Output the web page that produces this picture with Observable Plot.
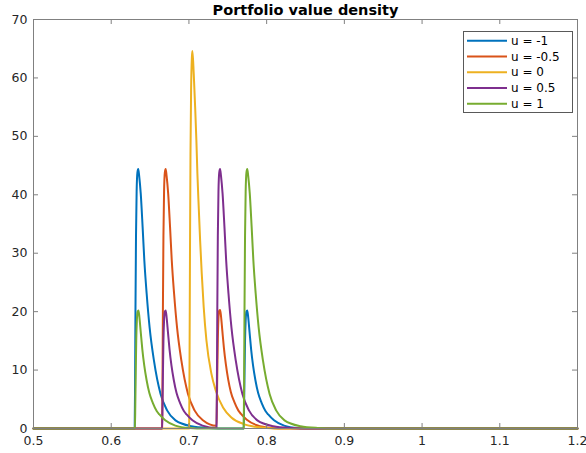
<!DOCTYPE html>
<html><head><meta charset="utf-8">
<script src="https://cdn.jsdelivr.net/npm/d3@7"></script>
<script src="https://cdn.jsdelivr.net/npm/@observablehq/plot@0.6"></script>
<style>html,body{margin:0;padding:0;background:#fff;} svg{display:block}</style>
</head><body><div id="chart"></div><script>
const chartTitle = "Portfolio value density";
const seriesNames = ["u = -1", "u = -0.5", "u = 0", "u = 0.5", "u = 1"];
const seriesColors = ["#0072BD", "#D95319", "#EDB120", "#7E2F8E", "#77AC30"];
const xTicks = [0.5, 0.6, 0.7, 0.8, 0.9, 1, 1.1, 1.2];
const xTickLabels = ["0.5", "0.6", "0.7", "0.8", "0.9", "1", "1.1", "1.2"];
const yTicks = [0, 10, 20, 30, 40, 50, 60, 70];
const yTickLabels = ["0", "10", "20", "30", "40", "50", "60", "70"];

// u = -1
const xU1m = [0.5, 0.6302, 0.6307, 0.6312, 0.6319, 0.6327, 0.6337, 0.6348, 0.636, 0.638, 0.6404, 0.6426, 0.6456, 0.6494, 0.655, 0.6635, 0.6719, 0.6827, 0.7032, 0.7252, 0.7502,
  0.7705, 0.771, 0.7715, 0.7722, 0.773, 0.774, 0.7751, 0.7763, 0.778, 0.78, 0.7825, 0.7855, 0.789, 0.7935, 0.7985, 0.802, 0.8095, 0.8225, 0.8405, 0.8605, 1.2];
const yU1m = [0, 0, 8, 20, 33, 40.5, 43.8, 44.4, 43.2, 40.2, 34.5, 28.8, 23.1, 17.3, 11.6, 5.9, 3.1, 1.4, 0.4, 0.1, 0,
  0, 4, 9, 15, 18.5, 20, 20.2, 19, 16.5, 13.6, 10.8, 8.3, 6.1, 4.4, 3.0, 2.4, 1.4, 0.5, 0.1, 0, 0];
// u = -0.5
const xU05m = [0.5, 0.6655, 0.666, 0.6665, 0.6672, 0.668, 0.669, 0.6701, 0.6713, 0.6733, 0.6757, 0.6779, 0.6809, 0.6847, 0.6903, 0.6988, 0.7072, 0.718,
  0.7355, 0.736, 0.7365, 0.7372, 0.738, 0.739, 0.7401, 0.7413, 0.743, 0.745, 0.7475, 0.7505, 0.754, 0.7585, 0.7635, 0.767, 0.7745, 0.7875, 0.8055, 0.8255, 1.2];
const yU05m = [0, 0, 8, 20, 33, 40.5, 43.8, 44.4, 43.2, 40.2, 34.5, 28.8, 23.1, 17.3, 11.6, 5.9, 3.1, 1.4,
  0.45, 4.4, 9.4, 15.3, 18.8, 20.2, 20.3, 19.2, 16.7, 13.8, 11, 8.4, 6.2, 4.5, 3.1, 2.5, 1.5, 0.55, 0.1, 0, 0];
// u = 0
const xU0 = [0.5, 0.7003, 0.7008, 0.7013, 0.702, 0.7028, 0.7038, 0.7045, 0.7062, 0.708, 0.7096, 0.7109, 0.7126, 0.7144, 0.7165, 0.719, 0.7225, 0.7289, 0.7345, 0.7439, 0.7546, 0.7697, 0.7853, 0.8003, 0.8203, 1.2];
const yU0 = [0, 0, 12, 28, 47, 58, 63.5, 64.6, 60.7, 55, 49.3, 43.6, 37.9, 32.2, 26.5, 20.8, 15.1, 9.4, 6.5, 3.6, 1.9, 0.8, 0.3, 0.1, 0, 0];
// u = 0.5
const xU05 = [0.5, 0.6655, 0.666, 0.6665, 0.6672, 0.668, 0.669, 0.6701, 0.6713, 0.673, 0.675, 0.6775, 0.6805, 0.684, 0.6885, 0.6935, 0.697, 0.7045, 0.7175, 0.7355,
  0.736, 0.7365, 0.7372, 0.738, 0.739, 0.7401, 0.7413, 0.7433, 0.7457, 0.7479, 0.7509, 0.7547, 0.7603, 0.7688, 0.7772, 0.788, 0.8085, 0.8305, 0.8555, 1.2];
const yU05 = [0, 0, 4, 9, 15, 18.5, 20, 20.2, 19, 16.5, 13.6, 10.8, 8.3, 6.1, 4.4, 3.0, 2.4, 1.4, 0.5, 0.1,
  8, 20, 33, 40.5, 43.8, 44.4, 43.2, 40.2, 34.5, 28.8, 23.1, 17.3, 11.6, 5.9, 3.1, 1.4, 0.4, 0.1, 0, 0];
// u = 1
const xU1 = [0.5, 0.6305, 0.631, 0.6315, 0.6322, 0.633, 0.634, 0.6351, 0.6363, 0.638, 0.64, 0.6425, 0.6455, 0.649, 0.6535, 0.6585, 0.662, 0.6695, 0.6825, 0.7005, 0.7205,
  0.7705, 0.771, 0.7715, 0.7722, 0.773, 0.774, 0.7751, 0.7763, 0.7783, 0.7807, 0.7829, 0.7859, 0.7897, 0.7953, 0.8038, 0.8122, 0.823, 0.8435, 0.8655, 0.8905, 1.2];
const yU1 = [0, 0, 4, 9, 15, 18.5, 20, 20.2, 19, 16.5, 13.6, 10.8, 8.3, 6.1, 4.4, 3.0, 2.4, 1.4, 0.5, 0.1, 0,
  0, 8, 20, 33, 40.5, 43.8, 44.4, 43.2, 40.2, 34.5, 28.8, 23.1, 17.3, 11.6, 5.9, 3.1, 1.4, 0.4, 0.1, 0, 0];

const xs = [xU1m, xU05m, xU0, xU05, xU1];
const ys = [yU1m, yU05m, yU0, yU05, yU1];
const rows = [];
seriesNames.forEach((name, k) => {
  xs[k].forEach((x, i) => rows.push({x, y: ys[k][i], series: name}));
});

const W = 586, H = 453, mL = 33, mR = 9, mT = 19, mB = 25;
const innerW = W - mL - mR, innerH = H - mT - mB;
const axisGray = "#808080";
const textColor = "#262626";

const svg = Plot.plot({
  width: W, height: H,
  marginLeft: mL, marginRight: mR, marginTop: mT, marginBottom: mB,
  style: {fontFamily: "DejaVu Sans", fontSize: "12.5px", color: textColor, background: "#fff", overflow: "visible"},
  x: {domain: [0.5, 1.2], label: null},
  y: {domain: [0, 70], label: null},
  color: {domain: seriesNames, range: seriesColors},
  marks: [
    Plot.line(rows, {x: "x", y: "y", z: "series", stroke: "series", strokeWidth: 2, curve: "monotone-x"}),
    Plot.frame({stroke: axisGray}),
    Plot.tickX(xTicks, {x: d => d, insetTop: innerH - 5, stroke: axisGray}),
    Plot.tickX(xTicks, {x: d => d, insetBottom: innerH - 5, stroke: axisGray}),
    Plot.tickY(yTicks, {y: d => d, insetRight: innerW - 5, stroke: axisGray}),
    Plot.tickY(yTicks, {y: d => d, insetLeft: innerW - 5, stroke: axisGray}),
    Plot.axisX(xTicks, {tickSize: 0, tickPadding: 8, label: null, fontSize: 12.5, fill: textColor,
      tickFormat: d => xTickLabels[xTicks.indexOf(d)]}),
    Plot.axisY(yTicks, {tickSize: 0, tickPadding: 6, label: null, fontSize: 12.5, fill: textColor,
      tickFormat: d => yTickLabels[yTicks.indexOf(d)]}),
    Plot.text([chartTitle], {text: d => d, frameAnchor: "top", lineAnchor: "middle", dy: -9, fontWeight: "bold", fontSize: 14.5, fill: "#000"})
  ]
});
document.getElementById("chart").appendChild(svg);

// legend
const lg = d3.select(svg).append("g").attr("font-family", "DejaVu Sans").attr("font-size", 12).attr("text-anchor", "start");
lg.append("rect").attr("x", 463.5).attr("y", 31.5).attr("width", 109).attr("height", 81)
  .attr("fill", "#fff").attr("stroke", "#595959").attr("stroke-width", 1);
seriesNames.forEach((name, i) => {
  const yy = 40.7 + i * 15.75;
  lg.append("line").attr("x1", 467).attr("x2", 507).attr("y1", yy).attr("y2", yy)
    .attr("stroke", seriesColors[i]).attr("stroke-width", 2);
  lg.append("text").attr("x", 511).attr("y", yy).attr("dy", "0.35em").attr("text-anchor", "start").attr("fill", "#000").text(name);
});
</script></body></html>
